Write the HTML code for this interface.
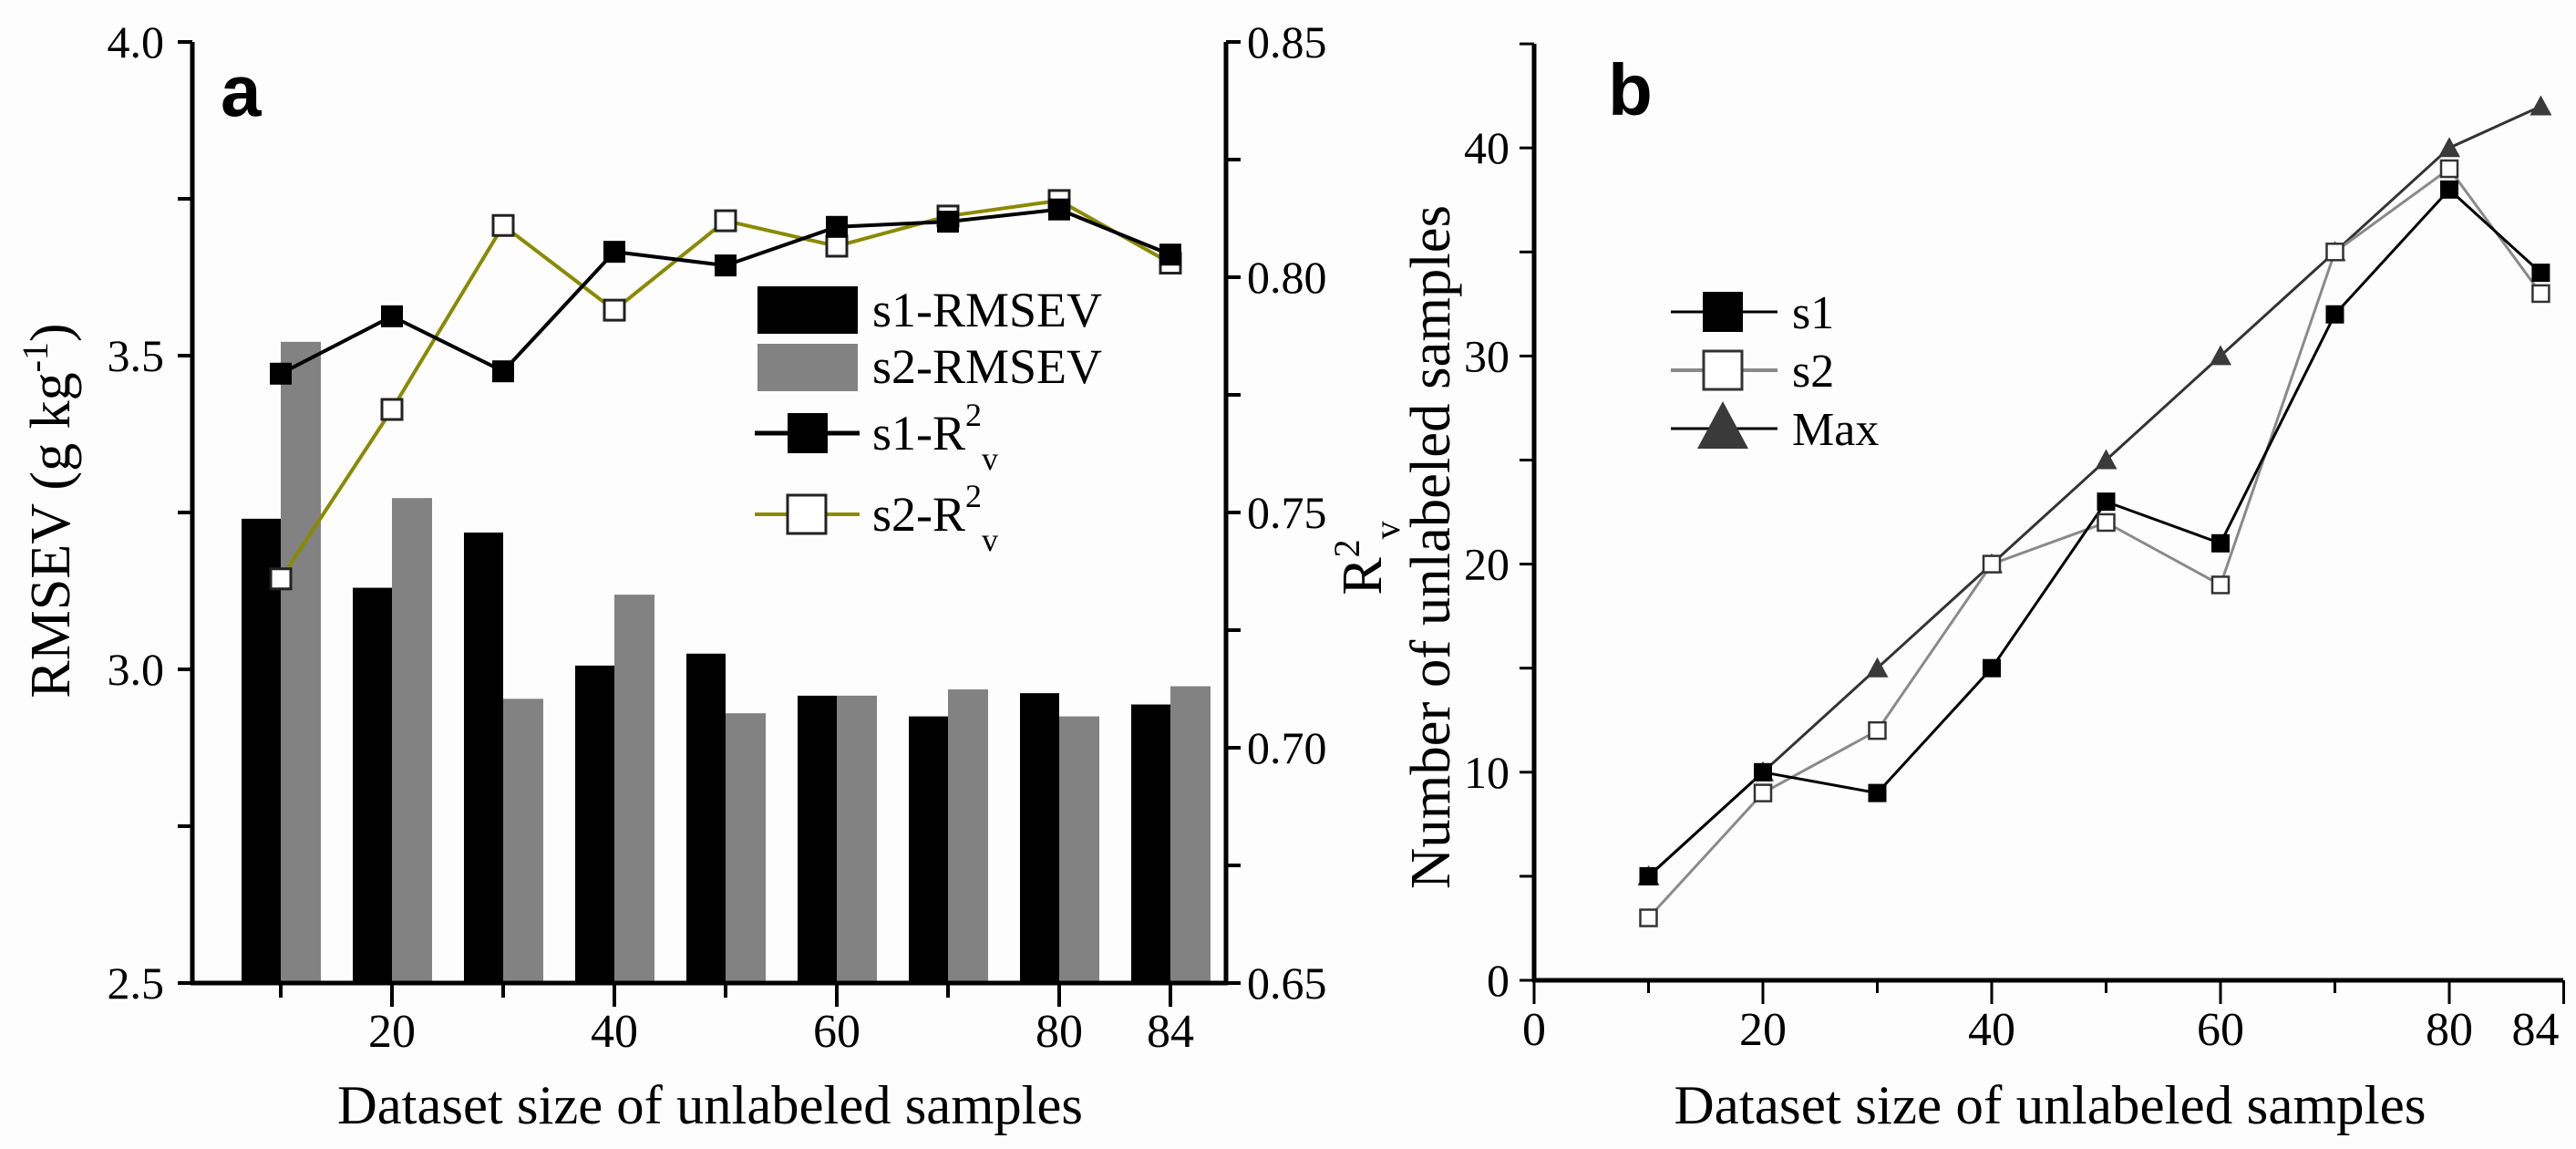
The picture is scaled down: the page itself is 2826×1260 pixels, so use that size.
<!DOCTYPE html>
<html><head><meta charset="utf-8"><style>
html,body{margin:0;padding:0;background:#fff;}
svg{display:block;font-family:"Liberation Serif",serif;}
</style></head><body>
<svg id="chart" width="2826" height="1260" viewBox="0 0 2826 1260" xmlns="http://www.w3.org/2000/svg">
<rect width="2826" height="1260" fill="#fdfdfd"/>
<g id="pa"></g>
<g id="pb"></g>
</svg>
<script>
// Panel a data
const catsA = ["10","20","30","40","50","60","70","80","84"];
const xLabelsA = ["","20","","40","","60","","80","84"];
const s1Rmsev = [3.24,3.13,3.218,3.006,3.025,2.958,2.925,2.962,2.944];
const s2Rmsev = [3.522,3.273,2.953,3.119,2.93,2.958,2.968,2.925,2.973];
const s1R2 = [0.7795,0.7917,0.780,0.8054,0.8025,0.8107,0.8118,0.8144,0.8048];
const s2R2 = [0.7359,0.7719,0.811,0.793,0.812,0.8066,0.813,0.8163,0.803];
const leftTicksA = [2.5,3.0,3.5,4.0];
const rightTicksA = [0.65,0.70,0.75,0.80,0.85];
// Panel b data
const xValsB = [10,20,30,40,50,60,70,80,88];
const s1Count = [5,10,9,15,23,21,32,38,34];
const s2Count = [3,9,12,20,22,19,35,39,33];
const maxCount = [5,10,15,20,25,30,35,40,42];
const xTickLabelsB = ["0","20","40","60","80","84"];
const xTickValsB = [0,20,40,60,80,90];
const yTicksB = [0,10,20,30,40];

const NS="http://www.w3.org/2000/svg";
function mk(parent,tag,attrs,text){const e=document.createElementNS(NS,tag);for(const k in attrs)e.setAttribute(k,attrs[k]);if(text!==undefined)e.textContent=text;parent.appendChild(e);return e;}

// ---------- Panel A ----------
const pa=document.getElementById('pa');
const AL=211, AR=1345, AT=46, AB=1078;
const yL=v=>AB-(v-2.5)/1.5*(AB-AT);
const yR=v=>AB-(v-0.65)/0.2*(AB-AT);
const xA=i=>308+i*122;
// bars
catsA.forEach((c,i)=>{
  let b=mk(pa,'rect',{x:xA(i)-43,y:yL(s1Rmsev[i]),width:43,height:AB-yL(s1Rmsev[i]),fill:'#000'});
  
  
  let g=mk(pa,'rect',{x:xA(i),y:yL(s2Rmsev[i]),width:44,height:AB-yL(s2Rmsev[i]),fill:'#828282'});
  
  
});
// lines
function poly(parent,pts,color,w,name){const p=mk(parent,'polyline',{points:pts.map(p=>p.join(',')).join(' '),fill:'none',stroke:color,'stroke-width':w});return p;}
poly(pa,s2R2.map((v,i)=>[xA(i),yR(v)]),'#8a8a00',4,'line-s2-r2');
poly(pa,s1R2.map((v,i)=>[xA(i),yR(v)]),'#000',4,'line-s1-r2');
s2R2.forEach((v,i)=>{const m=mk(pa,'rect',{x:xA(i)-11,y:yR(v)-11,width:22,height:22,fill:'#fff',stroke:'#222','stroke-width':3});});
s1R2.forEach((v,i)=>{const m=mk(pa,'rect',{x:xA(i)-12,y:yR(v)-12,width:24,height:24,fill:'#000'});});
// axes
mk(pa,'line',{x1:AL,y1:AT,x2:AL,y2:AB,stroke:'#000','stroke-width':5,});
mk(pa,'line',{x1:AR,y1:AT,x2:AR,y2:AB,stroke:'#000','stroke-width':5,});
mk(pa,'line',{x1:AL-2,y1:AB,x2:AR+2,y2:AB,stroke:'#000','stroke-width':5,});
for(let v=2.5;v<=4.001;v+=0.25){const y=yL(v);mk(pa,'line',{x1:AL-16,y1:y,x2:AL,y2:y,stroke:'#000','stroke-width':4});}
leftTicksA.forEach(v=>{const t=mk(pa,'text',{x:180,y:yL(v)+17,'font-size':50,'text-anchor':'end'},v.toFixed(1));});
for(let v=0.65;v<=0.851;v+=0.025){const y=yR(v);mk(pa,'line',{x1:AR,y1:y,x2:AR+16,y2:y,stroke:'#000','stroke-width':4});}
rightTicksA.forEach(v=>{const t=mk(pa,'text',{x:1368,y:yR(v)+17,'font-size':50,'text-anchor':'start'},v.toFixed(2));});
catsA.forEach((c,i)=>{const major=xLabelsA[i]!=="";mk(pa,'line',{x1:xA(i),y1:AB,x2:xA(i),y2:AB+(major?26:16),stroke:'#000','stroke-width':4});
 if(major){const t=mk(pa,'text',{x:xA(i),y:1148,'font-size':52,'text-anchor':'middle'},xLabelsA[i]);}});
mk(pa,'text',{x:779,y:1232,'font-size':60,'text-anchor':'middle',textLength:818,lengthAdjust:'spacingAndGlyphs',},'Dataset size of unlabeled samples');
const yt=mk(pa,'text',{transform:'translate(76,560) rotate(-90)','font-size':62,'text-anchor':'middle',});
mk(yt,'tspan',{},'RMSEV (g kg');mk(yt,'tspan',{dy:-24,'font-size':40},'-1');mk(yt,'tspan',{dy:24},')');
const rt=mk(pa,'text',{transform:'translate(1515,612) rotate(-90)','font-size':62,'text-anchor':'middle',});
mk(rt,'tspan',{},'R');mk(rt,'tspan',{dy:-24,'font-size':40},'2');mk(rt,'tspan',{dy:44,'font-size':40},'v');
mk(pa,'text',{x:242,y:127,'font-size':80,'font-weight':'bold','font-family':'Liberation Sans, sans-serif',},'a');
// legend a
const lg=mk(pa,'g',{});
mk(lg,'rect',{x:831,y:314,width:110,height:52,fill:'#000'});
mk(lg,'text',{x:957,y:358,'font-size':54},'s1-RMSEV');
mk(lg,'rect',{x:831,y:377,width:110,height:52,fill:'#828282'});
mk(lg,'text',{x:957,y:420,'font-size':54},'s2-RMSEV');
mk(lg,'line',{x1:828,y1:475,x2:943,y2:475,stroke:'#000','stroke-width':5});
mk(lg,'rect',{x:864,y:453,width:44,height:44,fill:'#000'});
const l3=mk(lg,'text',{x:957,y:493,'font-size':54});mk(l3,'tspan',{},'s1-R');mk(l3,'tspan',{dy:-26,'font-size':36},'2');mk(l3,'tspan',{dy:48,'font-size':36},'v');
mk(lg,'line',{x1:828,y1:564,x2:943,y2:564,stroke:'#8a8a00','stroke-width':4});
mk(lg,'rect',{x:864,y:543,width:42,height:42,fill:'#fff',stroke:'#222','stroke-width':3});
const l4=mk(lg,'text',{x:957,y:582,'font-size':54});mk(l4,'tspan',{},'s2-R');mk(l4,'tspan',{dy:-26,'font-size':36},'2');mk(l4,'tspan',{dy:48,'font-size':36},'v');

// ---------- Panel B ----------
const pb=document.getElementById('pb');
const BL=1683, BR=2812, BT=48, BB=1075;
const xB=v=>BL+v*12.55;
const yB=v=>BB-v*22.82;
poly(pb,maxCount.map((v,i)=>[xB(xValsB[i]),yB(v)]),'#333',3,'line-max');
poly(pb,s2Count.map((v,i)=>[xB(xValsB[i]),yB(v)]),'#8a8a8a',3,'line-s2');
poly(pb,s1Count.map((v,i)=>[xB(xValsB[i]),yB(v)]),'#000',3,'line-s1');
maxCount.forEach((v,i)=>{const x=xB(xValsB[i]),y=yB(v);const m=mk(pb,'polygon',{points:`${x-12},${y+10} ${x+12},${y+10} ${x},${y-12}`,fill:'#3a3a3a'});});
s2Count.forEach((v,i)=>{const m=mk(pb,'rect',{x:xB(xValsB[i])-9,y:yB(v)-9,width:18,height:18,fill:'#fff',stroke:'#333','stroke-width':2.5});});
s1Count.forEach((v,i)=>{const m=mk(pb,'rect',{x:xB(xValsB[i])-10,y:yB(v)-10,width:20,height:20,fill:'#000'});});
mk(pb,'line',{x1:BL,y1:BT,x2:BL,y2:BB+2,stroke:'#000','stroke-width':5,});
mk(pb,'line',{x1:BL-2,y1:BB,x2:BR,y2:BB,stroke:'#000','stroke-width':5,});
for(let v=0;v<=45;v+=5){mk(pb,'line',{x1:BL-16,y1:yB(v),x2:BL,y2:yB(v),stroke:'#000','stroke-width':3});}
yTicksB.forEach(v=>{const t=mk(pb,'text',{x:1656,y:yB(v)+17,'font-size':50,'text-anchor':'end'},String(v));});
for(let v=0;v<=90;v+=10){const major=v%20===0||v===90;mk(pb,'line',{x1:xB(v),y1:BB,x2:xB(v),y2:BB+(major?26:14),stroke:'#000','stroke-width':3});}
xTickLabelsB.forEach((l,i)=>{const xv=xTickValsB[i];const t=mk(pb,'text',{x:xB(xv)-(xv===90?31:0),y:1146,'font-size':52,'text-anchor':'middle'},l);});
mk(pb,'text',{x:2249,y:1232,'font-size':60,'text-anchor':'middle',textLength:825,lengthAdjust:'spacingAndGlyphs',},'Dataset size of unlabeled samples');
mk(pb,'text',{transform:'translate(1590,600) rotate(-90)','font-size':62,'text-anchor':'middle',textLength:750,lengthAdjust:'spacingAndGlyphs',},'Number of unlabeled samples');
mk(pb,'text',{x:1764,y:126,'font-size':80,'font-weight':'bold','font-family':'Liberation Sans, sans-serif',},'b');
const lb=mk(pb,'g',{});
mk(lb,'line',{x1:1833,y1:342,x2:1950,y2:342,stroke:'#000','stroke-width':3});
mk(lb,'rect',{x:1868,y:320,width:44,height:44,fill:'#000'});
mk(lb,'text',{x:1966,y:360,'font-size':52},'s1');
mk(lb,'line',{x1:1833,y1:406,x2:1950,y2:406,stroke:'#8a8a8a','stroke-width':4});
mk(lb,'rect',{x:1869,y:385,width:42,height:42,fill:'#fff',stroke:'#333','stroke-width':3});
mk(lb,'text',{x:1966,y:424,'font-size':52},'s2');
mk(lb,'line',{x1:1833,y1:470,x2:1950,y2:470,stroke:'#000','stroke-width':3});
mk(lb,'polygon',{points:'1862,492 1918,492 1890,440',fill:'#3a3a3a'});
mk(lb,'text',{x:1966,y:488,'font-size':52},'Max');
</script>
</body></html>
